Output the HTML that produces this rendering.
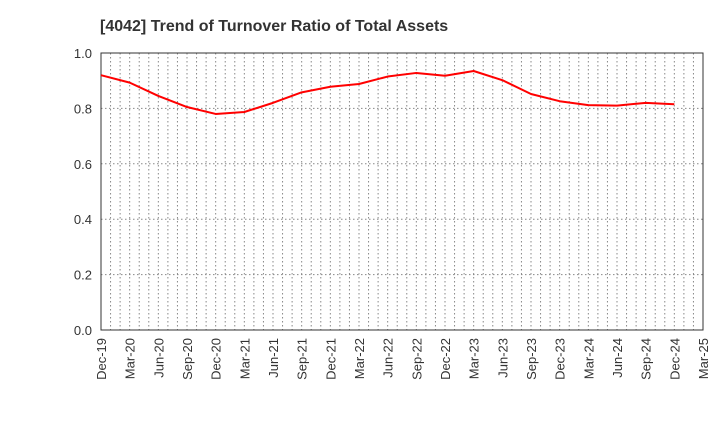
<!DOCTYPE html>
<html><head><meta charset="utf-8"><style>
body{margin:0;background:#fff;font-family:"Liberation Sans",sans-serif}
</style></head><body>
<svg id="c" width="720" height="440" xmlns="http://www.w3.org/2000/svg">
<text x="100" y="31" font-size="16" font-weight="bold" fill="#333">[4042]  Trend of Turnover Ratio of Total Assets</text>
<g id="grid"></g><g id="axes"></g><g id="series"></g>
</svg>
<script>
const categories=["Dec-19","Mar-20","Jun-20","Sep-20","Dec-20","Mar-21","Jun-21","Sep-21","Dec-21","Mar-22","Jun-22","Sep-22","Dec-22","Mar-23","Jun-23","Sep-23","Dec-23","Mar-24","Jun-24","Sep-24","Dec-24","Mar-25"];
const values=[0.92,0.893,0.845,0.805,0.78,0.787,0.82,0.858,0.878,0.888,0.915,0.928,0.918,0.935,0.902,0.852,0.826,0.812,0.81,0.82,0.815];
const yTicks=["0.0","0.2","0.4","0.6","0.8","1.0"];
const L=101,R=703,T=53,B=330,NS="http://www.w3.org/2000/svg";
const n=categories.length-1;
const xs=i=>L+(R-L)*i/n, ys=v=>B-(B-T)*v;
function mk(tag,a,parent){const e=document.createElementNS(NS,tag);for(const k in a)e.setAttribute(k,a[k]);document.getElementById(parent).appendChild(e);return e;}
for(let m=1;m<n*3;m++){const x=L+(R-L)*m/(n*3);
const g=mk('line',{x1:x,x2:x,y1:T,y2:B,stroke:'#888','stroke-dasharray':'1.5,2.5','stroke-width':1},'grid');

}
yTicks.forEach(t=>{const y=ys(parseFloat(t));
const g=mk('line',{x1:L,x2:R,y1:y,y2:y,stroke:'#888','stroke-dasharray':'1.5,2.5','stroke-width':1},'grid');


const tx=mk('text',{x:L-9,y:y+5,'text-anchor':'end','font-size':13,fill:'#333'},'axes');tx.textContent=t;

});
const fr=mk('rect',{x:L,y:T,width:R-L,height:B-T,fill:'none',stroke:'#333','stroke-width':1},'axes');


categories.forEach((c,i)=>{const x=xs(i);
const tx=mk('text',{x:x+5,y:B+8,'text-anchor':'end','font-size':13,fill:'#333',transform:`rotate(-90 ${x+5} ${B+8})`},'axes');tx.textContent=c;

});
const p=mk('polyline',{points:values.map((v,i)=>xs(i)+','+ys(v)).join(' '),fill:'none',stroke:'#f00','stroke-width':2,'stroke-linejoin':'round'},'series');


</script>
</body></html>
